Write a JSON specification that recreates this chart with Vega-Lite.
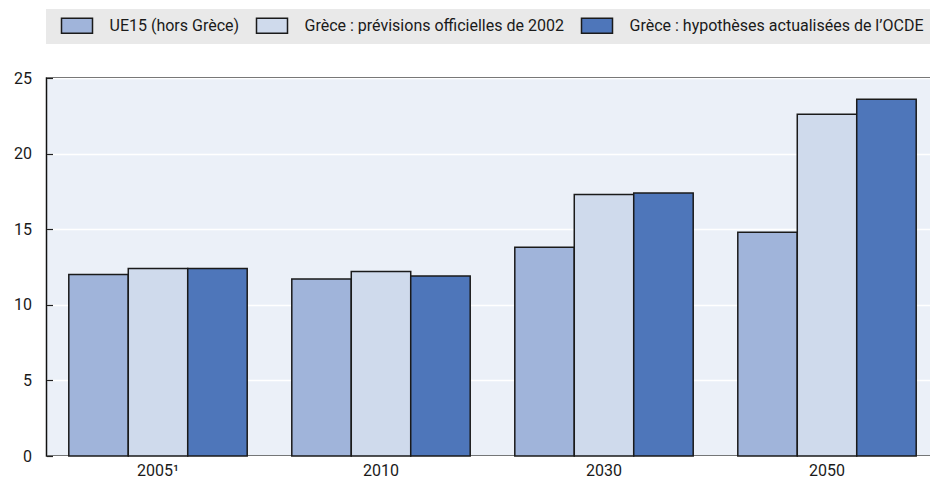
{
  "$schema": "https://vega.github.io/schema/vega-lite/v6.json",
  "width": 892,
  "height": 378,
  "autosize": "none",
  "padding": {"left": 46.5, "top": 78, "right": 0, "bottom": 32},
  "background": "white",
  "config": {
    "view": {"fill": "#ebf0f8", "stroke": "#111111", "strokeWidth": 1.5},
    "font": "Roboto, sans-serif",
    "axis": {"labelFont": "Roboto, sans-serif", "labelColor": "#1a1a1a"},
    "legend": {"labelFont": "Roboto, sans-serif"}
  },
  "data": {
    "values": [
      {"annee": "2005¹", "serie": "UE15 (hors Grèce)", "valeur": 12.0},
      {"annee": "2005¹", "serie": "Grèce : prévisions officielles de 2002", "valeur": 12.4},
      {"annee": "2005¹", "serie": "Grèce : hypothèses actualisées de l’OCDE", "valeur": 12.4},
      {"annee": "2010", "serie": "UE15 (hors Grèce)", "valeur": 11.7},
      {"annee": "2010", "serie": "Grèce : prévisions officielles de 2002", "valeur": 12.2},
      {"annee": "2010", "serie": "Grèce : hypothèses actualisées de l’OCDE", "valeur": 11.9},
      {"annee": "2030", "serie": "UE15 (hors Grèce)", "valeur": 13.8},
      {"annee": "2030", "serie": "Grèce : prévisions officielles de 2002", "valeur": 17.3},
      {"annee": "2030", "serie": "Grèce : hypothèses actualisées de l’OCDE", "valeur": 17.4},
      {"annee": "2050", "serie": "UE15 (hors Grèce)", "valeur": 14.8},
      {"annee": "2050", "serie": "Grèce : prévisions officielles de 2002", "valeur": 22.6},
      {"annee": "2050", "serie": "Grèce : hypothèses actualisées de l’OCDE", "valeur": 23.6}
    ]
  },
  "mark": {"type": "bar", "stroke": "#1a1a1a", "strokeWidth": 1.5},
  "encoding": {
    "x": {
      "field": "annee",
      "type": "nominal",
      "sort": ["2005¹", "2010", "2030", "2050"],
      "scale": {"paddingInner": 0.2, "paddingOuter": 0.1},
      "axis": {
        "title": null,
        "labelAngle": 0,
        "labelFontSize": 16,
        "labelPadding": 6,
        "ticks": false,
        "domain": false
      }
    },
    "xOffset": {
      "field": "serie",
      "type": "nominal",
      "sort": ["UE15 (hors Grèce)", "Grèce : prévisions officielles de 2002", "Grèce : hypothèses actualisées de l’OCDE"],
      "scale": {"paddingInner": 0, "paddingOuter": 0}
    },
    "y": {
      "field": "valeur",
      "type": "quantitative",
      "scale": {"domain": [0, 25], "nice": false},
      "axis": {
        "title": null,
        "values": [0, 5, 10, 15, 20, 25],
        "labelFontSize": 16,
        "grid": true,
        "gridColor": "#ffffff",
        "gridWidth": 1.5,
        "domain": false,
        "tickSize": -6,
        "tickColor": "#222222",
        "tickWidth": 1.2,
        "labelPadding": 21
      }
    },
    "color": {
      "field": "serie",
      "type": "nominal",
      "sort": ["UE15 (hors Grèce)", "Grèce : prévisions officielles de 2002", "Grèce : hypothèses actualisées de l’OCDE"],
      "scale": {
        "domain": ["UE15 (hors Grèce)", "Grèce : prévisions officielles de 2002", "Grèce : hypothèses actualisées de l’OCDE"],
        "range": ["#a0b4da", "#cfdaec", "#4e76ba"]
      },
      "legend": {
        "title": null,
        "orient": "none",
        "legendX": -0.5,
        "legendY": -69,
        "direction": "horizontal",
        "fillColor": "#e9e9e9",
        "padding": 7.5,
        "symbolType": "M-0.125,-0.94L3.75,-0.94L3.75,0.94L-0.125,0.94Z",
        "symbolSize": 256,
        "symbolStrokeColor": "#1a1a1a",
        "symbolStrokeWidth": 1.5,
        "symbolOpacity": 1,
        "labelFontSize": 16,
        "labelColor": "#1a1a1a",
        "labelOffset": 38,
        "labelLimit": 400,
        "columnPadding": 9
      }
    }
  }
}
